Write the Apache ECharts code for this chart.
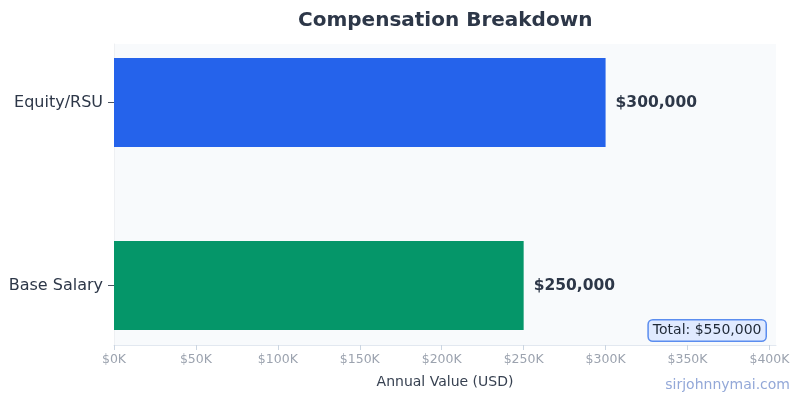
<!DOCTYPE html>
<html>
<head>
<meta charset="utf-8">
<script src="https://cdn.jsdelivr.net/npm/echarts@6/dist/echarts.min.js"></script>
<style>
  html, body { margin: 0; padding: 0; background: #fff; }
  #chart { width: 800px; height: 400px; }
</style>
</head>
<body>
<div id="chart"></div>
<script>
// data
var categories = ["Base Salary", "Equity/RSU"];
var values = [250000, 300000];
var barColors = ["#059669", "#2563eb"];
var totalText = "Total: $550,000";

var myChart = echarts.init(document.getElementById("chart"));
var font = "DejaVu Sans";

function money(v) {
  return "$" + v.toLocaleString("en-US");
}

var option = {
  textStyle: { fontFamily: font },
  title: {
    text: "Compensation Breakdown",
    left: 293,
    top: 6,
    textStyle: { fontSize: 20, fontWeight: "bold", color: "#2d3748", fontFamily: font }
  },
  grid: [
    // background + x axis
    { left: 114, right: 24, top: 44, bottom: 55, show: true, backgroundColor: "#f8fafc", borderWidth: 0 },
    // bars + category axis
    { left: 114, right: 24, top: 11, bottom: 23 }
  ],
  xAxis: [
    {
      gridIndex: 0, type: "value", min: 0, max: 404000, interval: 50000,
      name: "Annual Value (USD)", nameLocation: "middle", nameGap: 30,
      nameTextStyle: { fontSize: 14, color: "#374151" },
      axisLine: { show: true, lineStyle: { color: "#e2e8f0" } },
      axisTick: { show: true, length: 5, lineStyle: { color: "#cbd5e1" } },
      axisLabel: {
        color: "#9ca3af", fontSize: 12.5, margin: 8, showMaxLabel: false,
        formatter: function (v) { return "$" + (v / 1000) + "K"; }
      },
      splitLine: { show: false }
    },
    { gridIndex: 1, type: "value", min: 0, max: 404000, show: false }
  ],
  yAxis: [
    {
      gridIndex: 0, type: "value", min: 0, max: 1,
      axisLine: { show: true, lineStyle: { color: "#eef0f3" } },
      axisTick: { show: false }, axisLabel: { show: false }, splitLine: { show: false }
    },
    {
      gridIndex: 1, type: "category", data: categories,
      axisLine: { show: false },
      axisTick: { show: true, alignWithLabel: true, length: 6, lineStyle: { color: "#4b5563" } },
      axisLabel: { color: "#2d3748", fontSize: 16, margin: 11 }
    }
  ],
  series: [
    {
      type: "bar",
      xAxisIndex: 1, yAxisIndex: 1,
      barWidth: 89,
      data: values.map(function (v, i) {
        return { value: v, itemStyle: { color: barColors[i] } };
      }),
      label: {
        show: true, position: "right", distance: 10,
        fontSize: 15.5, fontWeight: "bold", color: "#2d3748",
        formatter: function (p) { return money(p.value); }
      }
    }
  ],
  graphic: [
    {
      type: "text", right: 10, top: 378,
      style: { text: "sirjohnnymai.com", fill: "#93a8d8", font: "14px " + font }
    },
    {
      type: "text", right: 33, top: 319,
      style: {
        text: totalText, fill: "#1f2937", font: "14px " + font,
        backgroundColor: "#e0eaff", borderColor: "#5b8def", borderWidth: 1.5,
        borderRadius: 4, padding: [3, 4]
      }
    }
  ]
};

myChart.setOption(option);
</script>
</body>
</html>
